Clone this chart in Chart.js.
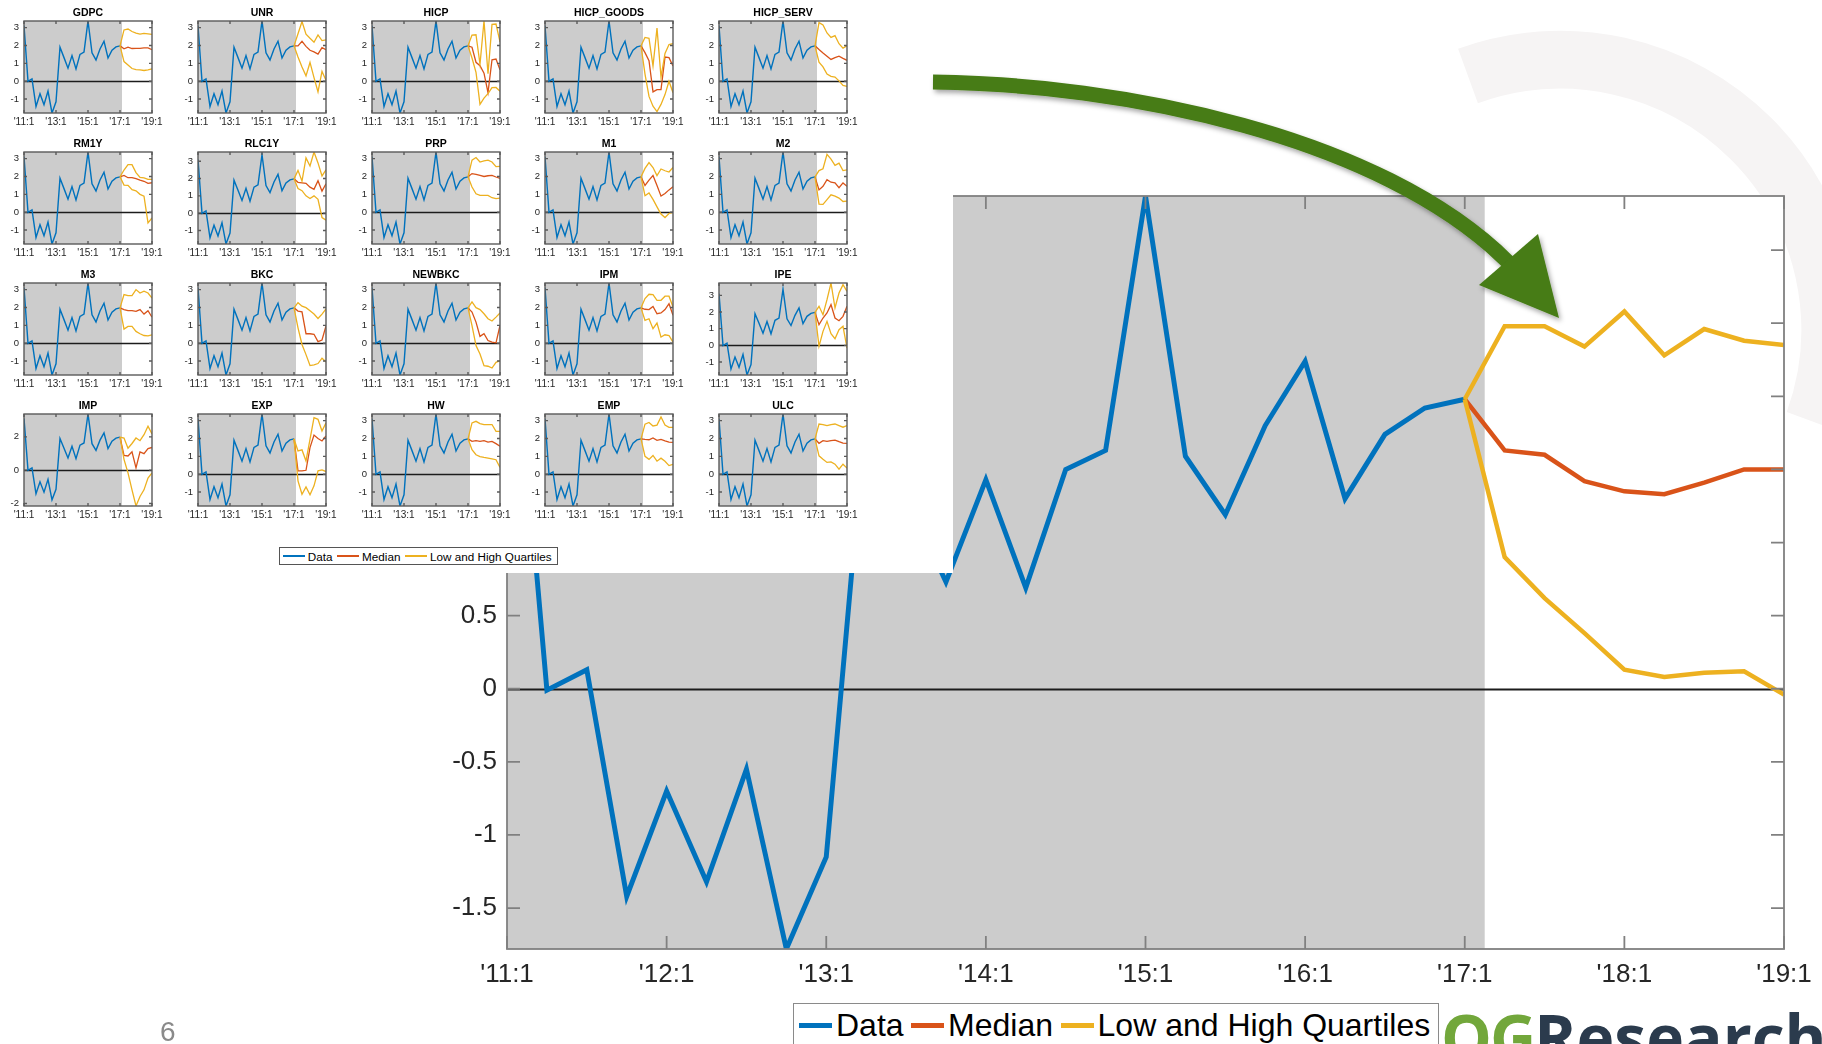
<!DOCTYPE html>
<html>
<head>
<meta charset="utf-8">
<title>Forecast distribution</title>
<script src="https://cdn.jsdelivr.net/npm/chart.js@4.4.1/dist/chart.umd.min.js"></script>
<style>
  html, body { margin: 0; padding: 0; background: #fff; }
  body { width: 1822px; height: 1044px; position: relative; overflow: hidden;
         font-family: "Liberation Sans", Arial, Helvetica, sans-serif; }
  #mark { position: absolute; left: 0; top: 0; }
  #main { position: absolute; left: 0; top: 0; }
  #panels { position: absolute; left: 0; top: 0; width: 953px; height: 573px; background: #fff; }
  #panels canvas { position: absolute; }
  .legend { position: absolute; background: #fff; box-sizing: border-box; display: flex;
            align-items: center; white-space: nowrap; color: #000; }
  .legend .swatch { flex: none; }
  #mainLegend { left: 793px; top: 1003px; width: 646px; height: 60px; border: 1.5px solid #8a8a8a;
                align-items: flex-start; padding: 6px 0 0 5px; font-size: 32px; line-height: 31px; }
  #mainLegend .item { display: flex; align-items: center; height: 31px; }
  #smallLegend { left: 279px; top: 547px; width: 279px; height: 18px; border: 1px solid #555;
                 padding-left: 3px; font-size: 11.7px; }
  #smallLegend .item { display: flex; align-items: center; }
  #pageNum { position: absolute; left: 160px; top: 1018px; font-size: 28px; line-height: 28px; color: #8a8a8a; }
  #logo { position: absolute; left: 1441px; top: 1005px; white-space: nowrap; font-family: "Open Sans", sans-serif;
          font-weight: 700; font-size: 64px; line-height: 64px; }
  #logo .og { color: #72a73b; letter-spacing: -2px; }
  #logo .rs { color: #2b3b4d; }
  #arrow { position: absolute; left: 0; top: 0; pointer-events: none; }
</style>
</head>
<body>

<svg id="mark" width="1822" height="1044">
  <path d="M1468,76 A270,270 0 0 1 1814,422" fill="none" stroke="#f6f4f4" stroke-width="58"/>
</svg>

<canvas id="main" width="1822" height="1044"></canvas>

<div id="panels">
  <div id="smallLegend" class="legend"></div>
</div>

<div id="mainLegend" class="legend"></div>

<div id="pageNum">6</div>
<div id="logo"><span class="og">OG</span><span class="rs">Research</span></div>

<svg id="arrow" width="1822" height="1044">
  <defs>
    <filter id="shadow" x="-10%" y="-10%" width="130%" height="140%">
      <feDropShadow dx="2" dy="3" stdDeviation="2.5" flood-color="#000" flood-opacity="0.35"/>
    </filter>
  </defs>
  <g filter="url(#shadow)">
    <path d="M933,82 C1120,84 1380,135 1508,262" stroke="#467b16" stroke-width="15" fill="none"/>
    <polygon points="1479,285 1538,234 1559,318" fill="#467b16"/>
  </g>
</svg>

<script>
// ---- colours -------------------------------------------------------------
const BLUE = '#0072bd';
const RED = '#d95319';
const YELLOW = '#edb120';
const INK = '#262626';

// ---- history: quarterly observations 2011:1 .. 2017:1 ---------------------
const histValues = [3.10, -0.01, 0.13, -1.42, -0.70, -1.32, -0.55, -1.78, -1.15,
                    1.90, 1.32, 0.73, 1.43, 0.69, 1.50, 1.63, 3.37, 1.59, 1.19,
                    1.80, 2.24, 1.30, 1.74, 1.92, 1.98];
const lastIdx = histValues.length - 1;   // 2017:1
const horizonEnd = 32;                    // 2019:1

// ---- axis labels ----------------------------------------------------------
const yearLabels = ["'11:1", "'12:1", "'13:1", "'14:1", "'15:1", "'16:1", "'17:1", "'18:1", "'19:1"];
const mainYTicks = [-1.5, -1, -0.5, 0, 0.5, 1, 1.5, 2, 2.5, 3];
const smallYTicks = [-1, 0, 1, 2, 3];
const impYTicks = [-2, 0, 2];
const smallXTicks = [0, 8, 16, 24, 32];
const legendLabels = ['Data', 'Median', 'Low and High Quartiles'];

// ---- headline forecast, 2017:2 .. 2019:1 ----------------------------------
const mainHigh   = [2.48, 2.48, 2.34, 2.58, 2.28, 2.46, 2.38, 2.35];
const mainMedian = [1.63, 1.60, 1.42, 1.35, 1.33, 1.41, 1.50, 1.50];
const mainLow    = [0.90, 0.62, 0.38, 0.13, 0.08, 0.11, 0.12, -0.04];

// ---- conditional forecasts by variable, 2017:2 .. 2019:1 ------------------
const gdpcHigh = [2.87, 2.92, 2.78, 2.69, 2.64, 2.68, 2.65, 2.62];
const gdpcMed  = [1.81, 1.91, 1.83, 1.84, 1.84, 1.86, 1.86, 1.77];
const gdpcLow  = [1.10, 0.91, 0.71, 0.65, 0.63, 0.60, 0.64, 0.69];

const unrHigh = [2.66, 3.34, 2.63, 2.40, 2.18, 2.59, 2.27, 2.31];
const unrMed  = [1.98, 2.23, 1.95, 1.73, 1.64, 1.52, 1.88, 1.76];
const unrLow  = [1.35, 0.80, 0.30, 1.05, 0.20, -0.60, 0.55, 0.05];

const hicpHigh = [2.58, 2.60, 0.95, 3.37, 0.42, 3.18, 3.20, 2.20];
const hicpMed  = [1.90, 1.06, 0.87, 0.45, -0.64, 1.20, 1.24, 0.64];
const hicpLow  = [1.30, 0.50, -1.30, -0.95, -0.70, -0.36, -0.35, -0.56];

const goodsHigh = [2.45, 2.40, 0.85, 2.97, 0.23, 1.55, 2.05, 2.10];
const goodsMed  = [1.60, 1.15, -0.60, -0.47, -0.47, 1.35, 1.32, 0.85];
const goodsLow  = [0.40, -0.85, -1.40, -1.70, -1.30, -0.75, 0.00, -0.65];

const servHigh = [3.28, 3.15, 2.70, 2.45, 2.55, 2.10, 1.85, 1.98];
const servMed  = [1.77, 1.58, 1.40, 1.22, 1.32, 1.40, 1.28, 1.17];
const servLow  = [1.06, 0.80, 0.40, 0.27, 0.23, 0.02, -0.24, -0.29];

const rm1yHigh = [2.36, 2.66, 2.66, 2.22, 1.95, 1.92, 1.84, 1.84];
const rm1yMed  = [2.06, 1.93, 1.93, 1.88, 1.80, 1.73, 1.61, 1.65];
const rm1yLow  = [1.52, 1.50, 1.26, 1.20, 1.00, 0.90, -0.60, -0.32];

const rlcHigh = [2.47, 1.85, 3.19, 2.72, 3.53, 2.90, 2.15, 2.50];
const rlcMed  = [1.78, 1.75, 1.72, 1.50, 1.38, 1.87, 1.27, 1.70];
const rlcLow  = [1.42, 1.30, 1.00, 0.85, 1.00, 0.80, -0.25, -0.40];

const prpHigh = [2.91, 3.06, 2.81, 2.87, 2.91, 2.81, 2.55, 2.57];
const prpMed  = [2.16, 2.12, 2.06, 2.00, 2.04, 2.06, 1.97, 1.89];
const prpLow  = [1.41, 1.03, 0.94, 0.94, 0.94, 0.81, 0.76, 0.79];

const m1High = [2.45, 2.78, 2.50, 2.05, 2.42, 2.32, 2.25, 2.50];
const m1Med  = [1.50, 1.80, 2.05, 1.50, 0.90, 1.05, 1.25, 1.43];
const m1Low  = [0.92, 1.08, 0.72, 0.30, -0.10, -0.30, -0.07, 0.00];

const m2High = [2.33, 2.43, 3.24, 2.97, 2.62, 2.75, 2.33, 2.37];
const m2Med  = [1.25, 1.45, 1.82, 1.68, 1.64, 1.37, 1.64, 1.45];
const m2Low  = [0.45, 0.44, 0.70, 0.97, 0.90, 0.79, 0.60, 0.62];

const m3High = [2.72, 2.66, 2.66, 3.00, 2.81, 2.91, 2.81, 2.53];
const m3Med  = [1.88, 1.82, 1.82, 1.78, 1.88, 1.63, 1.82, 1.46];
const m3Low  = [0.79, 0.94, 0.94, 0.66, 0.53, 0.43, 0.41, 0.47];

const bkcHigh = [2.27, 2.07, 1.99, 1.82, 1.63, 1.38, 1.63, 1.92];
const bkcMed  = [1.80, 1.76, 0.53, 0.53, 0.50, 0.09, 0.18, 0.97];
const bkcLow  = [0.86, -0.07, -0.64, -1.25, -1.21, -1.14, -0.84, -1.05];

const newbkcHigh = [2.31, 1.99, 1.88, 1.65, 1.37, 1.24, 1.46, 1.69];
const newbkcMed  = [1.74, 1.18, 0.38, 0.53, 0.15, 0.06, 0.02, 0.99];
const newbkcLow  = [0.99, -0.13, -0.60, -1.26, -1.29, -1.39, -1.07, -0.98];

const ipmHigh = [2.50, 2.74, 2.72, 2.40, 2.40, 2.63, 2.63, 2.03];
const ipmMed  = [1.90, 1.88, 2.06, 1.65, 1.69, 1.88, 2.21, 1.56];
const ipmLow  = [1.28, 1.37, 0.81, 1.13, 0.34, 0.47, 0.43, 0.06];

const ipeHigh = [2.34, 1.84, 2.74, 3.74, 2.24, 3.14, 3.64, 3.24];
const ipeMed  = [1.24, 1.64, 1.94, 2.44, 1.64, 1.48, 1.74, 2.34];
const ipeLow  = [-0.06, 0.84, 1.44, 0.70, 0.40, 0.94, 1.14, -0.16];

const impHigh = [1.93, 1.32, 1.60, 1.93, 1.77, 2.13, 2.64, 2.17];
const impMed  = [0.89, 0.85, 1.10, 0.14, 1.10, 0.99, 1.30, 1.36];
const impLow  = [0.65, -0.16, -1.18, -2.15, -1.58, -1.18, -0.47, -0.16];

const expHigh = [1.30, 1.36, 0.74, 1.95, 3.16, 3.07, 2.42, 2.88];
const expMed  = [0.19, 0.19, 0.22, 1.49, 2.19, 2.00, 1.86, 2.14];
const expLow  = [-0.37, -1.12, -0.71, -1.15, -0.65, 0.19, 0.24, 0.15];

const hwHigh = [2.87, 2.96, 2.83, 2.78, 2.78, 2.78, 2.40, 2.40];
const hwMed  = [1.84, 1.88, 1.84, 1.88, 1.80, 1.84, 1.71, 1.56];
const hwLow  = [1.37, 1.09, 0.99, 0.94, 0.90, 0.86, 0.81, 0.38];

const empHigh = [2.80, 2.90, 2.70, 2.75, 3.20, 2.75, 2.62, 2.62];
const empMed  = [1.95, 1.93, 2.03, 1.90, 1.95, 1.87, 1.80, 1.78];
const empLow  = [1.00, 0.83, 1.05, 0.73, 0.90, 0.72, 0.48, 0.55];

const ulcHigh = [2.81, 2.78, 2.72, 2.78, 2.81, 2.72, 2.63, 2.72];
const ulcMed  = [1.73, 1.88, 1.84, 1.88, 1.91, 1.82, 1.74, 1.73];
const ulcLow  = [1.03, 0.84, 0.66, 0.69, 0.56, 0.28, 0.56, 0.34];

// grid of small panels, row by row
const panels = [
  { name: 'GDPC',       high: gdpcHigh,   median: gdpcMed,   low: gdpcLow },
  { name: 'UNR',        high: unrHigh,    median: unrMed,    low: unrLow },
  { name: 'HICP',       high: hicpHigh,   median: hicpMed,   low: hicpLow },
  { name: 'HICP_GOODS', high: goodsHigh,  median: goodsMed,  low: goodsLow },
  { name: 'HICP_SERV',  high: servHigh,   median: servMed,   low: servLow },
  { name: 'RM1Y',       high: rm1yHigh,   median: rm1yMed,   low: rm1yLow },
  { name: 'RLC1Y',      high: rlcHigh,    median: rlcMed,    low: rlcLow },
  { name: 'PRP',        high: prpHigh,    median: prpMed,    low: prpLow },
  { name: 'M1',         high: m1High,     median: m1Med,     low: m1Low },
  { name: 'M2',         high: m2High,     median: m2Med,     low: m2Low },
  { name: 'M3',         high: m3High,     median: m3Med,     low: m3Low },
  { name: 'BKC',        high: bkcHigh,    median: bkcMed,    low: bkcLow },
  { name: 'NEWBKC',     high: newbkcHigh, median: newbkcMed, low: newbkcLow },
  { name: 'IPM',        high: ipmHigh,    median: ipmMed,    low: ipmLow },
  { name: 'IPE',        high: ipeHigh,    median: ipeMed,    low: ipeLow },
  { name: 'IMP',        high: impHigh,    median: impMed,    low: impLow, yTicks: impYTicks },
  { name: 'EXP',        high: expHigh,    median: expMed,    low: expLow },
  { name: 'HW',         high: hwHigh,     median: hwMed,     low: hwLow },
  { name: 'EMP',        high: empHigh,    median: empMed,    low: empLow },
  { name: 'ULC',        high: ulcHigh,    median: ulcMed,    low: ulcLow }
];

// ---- helpers --------------------------------------------------------------
Chart.defaults.font.family = '"Liberation Sans", Arial, Helvetica, sans-serif';
Chart.defaults.color = INK;

const histPoints = () => histValues.map((v, i) => ({ x: i, y: v }));
// forecast paths start at the last observation
const forecastPoints = vals =>
  [{ x: lastIdx, y: histValues[lastIdx] }].concat(vals.map((v, i) => ({ x: lastIdx + 1 + i, y: v })));
const quarterLabel = v => yearLabels[Math.round(v / 4)];
const extent = arrs => {
  const all = [].concat(...arrs);
  return [Math.min(...all), Math.max(...all)];
};

// shaded history, zero line, boxed axes with inward ticks, optional title
function framePlugin(o) {
  return {
    id: 'frame',
    beforeDatasetsDraw(chart) {
      const { ctx, chartArea: a, scales: { x, y } } = chart;
      ctx.save();
      ctx.fillStyle = '#ffffff';
      ctx.fillRect(a.left, a.top, a.width, a.height);
      const xs = x.getPixelForValue(0);
      const xe = x.getPixelForValue(lastIdx + 0.5);
      ctx.fillStyle = '#cccccc';
      ctx.fillRect(xs, a.top, xe - xs, a.height);
      const y0 = Math.round(y.getPixelForValue(0)) + 0.5;
      ctx.strokeStyle = '#1c1c1c';
      ctx.lineWidth = o.zeroWidth;
      ctx.beginPath();
      ctx.moveTo(a.left, y0);
      ctx.lineTo(a.right, y0);
      ctx.stroke();
      ctx.restore();
    },
    afterDatasetsDraw(chart) {
      const { ctx, chartArea: a, scales: { x, y } } = chart;
      ctx.save();
      ctx.strokeStyle = o.axisColor;
      ctx.lineWidth = o.axisWidth;
      ctx.beginPath();
      y.ticks.forEach(t => {
        const py = y.getPixelForValue(t.value);
        ctx.moveTo(a.left, py); ctx.lineTo(a.left + o.tick, py);
        ctx.moveTo(a.right, py); ctx.lineTo(a.right - o.tick, py);
      });
      x.ticks.forEach(t => {
        const px = x.getPixelForValue(t.value);
        ctx.moveTo(px, a.bottom); ctx.lineTo(px, a.bottom - o.tick);
        ctx.moveTo(px, a.top); ctx.lineTo(px, a.top + o.tick);
      });
      ctx.stroke();
      ctx.strokeRect(a.left, a.top, a.width, a.height);
      if (o.title) {
        ctx.fillStyle = '#000';
        ctx.font = 'bold 10.5px "Liberation Sans", Arial, sans-serif';
        ctx.textAlign = 'center';
        ctx.textBaseline = 'alphabetic';
        ctx.fillText(o.title, (a.left + a.right) / 2, a.top - 5.5);
      }
      ctx.restore();
    }
  };
}

function seriesSets(high, median, low, width) {
  return [
    { label: legendLabels[2], data: forecastPoints(high), borderColor: YELLOW, borderWidth: width, order: 0 },
    { label: legendLabels[2], data: forecastPoints(low), borderColor: YELLOW, borderWidth: width, order: 0 },
    { label: legendLabels[1], data: forecastPoints(median), borderColor: RED, borderWidth: width, order: 1 },
    { label: legendLabels[0], data: histPoints(), borderColor: BLUE, borderWidth: width * 1.1, order: 2 }
  ];
}

function baseOptions(yRange, yTicks, geo) {
  return {
    responsive: false,
    animation: false,
    events: [],
    devicePixelRatio: 1,
    elements: { point: { radius: 0 }, line: { tension: 0, fill: false } },
    layout: { padding: { top: geo.padTop, right: geo.padRight, left: 0, bottom: 0 } },
    plugins: { legend: { display: false }, tooltip: { enabled: false }, title: { display: false } },
    scales: {
      x: {
        type: 'linear', min: 0, max: horizonEnd,
        grid: { display: false, drawTicks: false }, border: { display: false },
        afterBuildTicks: s => { s.ticks = geo.xTicks.map(v => ({ value: v })); },
        afterFit: s => { s.height = geo.xAxisH; },
        ticks: { autoSkip: false, maxRotation: 0, minRotation: 0, padding: geo.xPad, color: INK,
                 font: { size: geo.xFont }, callback: v => quarterLabel(v) }
      },
      y: {
        type: 'linear', min: yRange[0], max: yRange[1],
        grid: { display: false, drawTicks: false }, border: { display: false },
        afterBuildTicks: s => { s.ticks = yTicks.map(v => ({ value: v })); },
        afterFit: s => { s.width = geo.yAxisW; },
        ticks: { autoSkip: false, padding: geo.yPad, color: INK, font: { size: geo.yFont },
                 callback: v => String(v) }
      }
    }
  };
}

// ---- headline chart -------------------------------------------------------
new Chart(document.getElementById('main'), {
  type: 'line',
  data: { datasets: seriesSets(mainHigh, mainMedian, mainLow, 4.5) },
  options: baseOptions(
    extent([histValues, mainHigh, mainMedian, mainLow]),
    mainYTicks,
    { padTop: 196, padRight: 38, xAxisH: 95, yAxisW: 507, xPad: 10, yPad: 10, xFont: 26, yFont: 26,
      xTicks: yearLabels.map((_, i) => i * 4) }
  ),
  plugins: [framePlugin({ tick: 13, axisColor: '#808080', axisWidth: 1.8, zeroWidth: 2 })]
});

// ---- small multiples ------------------------------------------------------
const panelLefts = [24, 198, 372, 545, 719];
const panelTops = [21, 152, 283, 414];
const PW = 128, PH = 92, PAD_L = 22, PAD_T = 18, PAD_R = 14, PAD_B = 16;
const host = document.getElementById('panels');

panels.forEach((p, k) => {
  const col = k % 5, row = Math.floor(k / 5);
  const cv = document.createElement('canvas');
  cv.width = PW + PAD_L + PAD_R;
  cv.height = PH + PAD_T + PAD_B;
  cv.style.left = (panelLefts[col] - PAD_L) + 'px';
  cv.style.top = (panelTops[row] - PAD_T) + 'px';
  host.appendChild(cv);
  new Chart(cv, {
    type: 'line',
    data: { datasets: seriesSets(p.high, p.median, p.low, 1.3) },
    options: baseOptions(
      extent([histValues, p.high, p.median, p.low]),
      p.yTicks || smallYTicks,
      { padTop: PAD_T, padRight: PAD_R, xAxisH: PAD_B, yAxisW: PAD_L, xPad: 3, yPad: 5, xFont: 10, yFont: 9.5,
        xTicks: smallXTicks }
    ),
    plugins: [framePlugin({ tick: 3, axisColor: '#5a5a5a', axisWidth: 1.4, zeroWidth: 1.3, title: p.name })]
  });
});

// ---- legends ----------------------------------------------------------------
const legendColors = [BLUE, RED, YELLOW];
function buildLegend(el, swLen, swH, gapIn, gapOut) {
  legendLabels.forEach((txt, i) => {
    const item = document.createElement('div');
    item.className = 'item';
    const sw = document.createElement('span');
    sw.className = 'swatch';
    sw.style.cssText = `display:inline-block;width:${swLen}px;height:${swH}px;background:${legendColors[i]};margin-right:${gapIn}px;`;
    const label = document.createElement('span');
    label.textContent = txt;
    label.style.marginRight = gapOut + 'px';
    item.appendChild(sw);
    item.appendChild(label);
    el.appendChild(item);
  });
}
buildLegend(document.getElementById('mainLegend'), 33, 5, 4, 7.5);
buildLegend(document.getElementById('smallLegend'), 22, 1.3, 2.7, 5);
</script>
</body>
</html>
